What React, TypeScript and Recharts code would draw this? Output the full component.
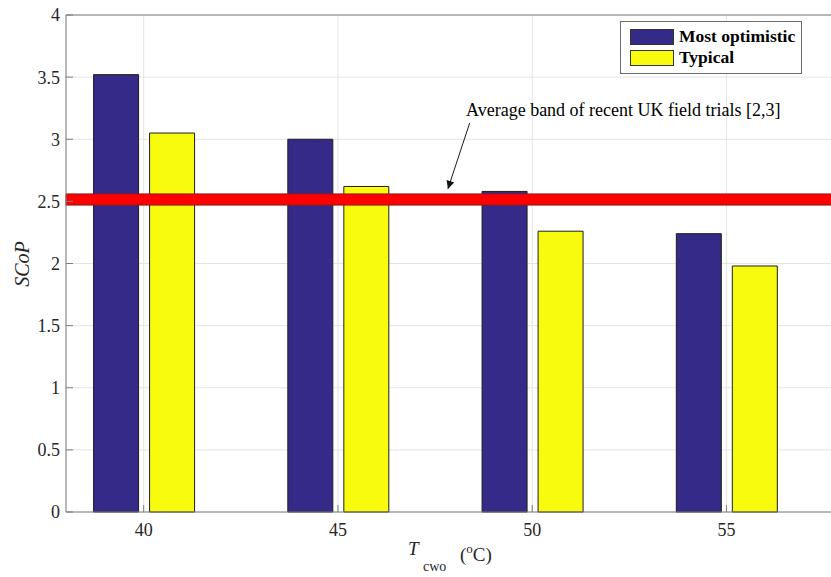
import React from "react";
import {
  Bar,
  BarChart,
  CartesianGrid,
  Legend,
  ReferenceArea,
  ReferenceLine,
  XAxis,
  YAxis,
} from "recharts";

// outlet water temperature, degC
const categories = [40, 45, 50, 55];
const mostOptimistic = [3.52, 3.0, 2.58, 2.24];
const typical = [3.05, 2.62, 2.26, 1.98];
const xTicks = [40, 45, 50, 55];
const yTicks = [0, 0.5, 1, 1.5, 2, 2.5, 3, 3.5, 4];
// field trial band (SCoP range)
const fieldBand = [2.47, 2.56];
const arrowFrom = { x: 48.39, y: 3.13 };
const arrowTo = { x: 47.83, y: 2.6 };

const BLUE = "#352A87";
const YELLOW = "#F9FB0E";
const AXIS = "#7f7f7f";
const TEXT = "#262626";
const FONT = "'Liberation Serif', 'Times New Roman', serif";

const data = categories.map((t, i) => ({
  t,
  most: mostOptimistic[i],
  typical: typical[i],
}));

function LegendBox({ payload }: { payload?: any[] }) {
  return (
    <div
      style={{
        border: "1px solid #6b6b6b",
        background: "#fff",
        width: 182,
        padding: "4px 0 5px 9px",
        boxSizing: "border-box",
        fontFamily: FONT,
        fontWeight: "bold",
        fontSize: 17.5,
        color: "#000",
      }}
    >
      {(payload ?? []).map((p) => (
        <div
          key={p.value}
          style={{ display: "flex", alignItems: "center", height: 21 }}
        >
          <span
            style={{
              display: "inline-block",
              width: 44,
              height: 16,
              background: p.color,
              border: "1px solid #333",
              boxSizing: "border-box",
              marginRight: 5,
            }}
          />
          <span>{p.value}</span>
        </div>
      ))}
    </div>
  );
}

export default function App() {
  return (
    <div
      style={{
        position: "absolute",
        left: 0,
        top: 0,
        width: 831,
        height: 577,
        overflow: "hidden",
        background: "#fff",
      }}
    >
      <BarChart
        width={843}
        height={577}
        data={data}
        margin={{ top: 0, right: 0, bottom: 35, left: 0 }}
        barGap={11}
      >
        <CartesianGrid stroke="#e4e4e4" />
        <XAxis
          dataKey="t"
          type="number"
          domain={[38, 58]}
          ticks={xTicks}
          allowDataOverflow
          height={30}
          tickSize={-7}
          tickMargin={18}
          stroke={AXIS}
          tick={{ fill: TEXT, fontFamily: FONT, fontSize: 18 }}
        />
        <XAxis
          xAxisId="top"
          orientation="top"
          dataKey="t"
          type="number"
          domain={[38, 58]}
          ticks={xTicks}
          allowDataOverflow
          height={15}
          tickSize={-7}
          tick={false}
          stroke={AXIS}
        />
        <YAxis
          domain={[0, 4]}
          ticks={yTicks}
          width={66}
          tickSize={-7}
          tickMargin={13}
          stroke={AXIS}
          tick={{ fill: TEXT, fontFamily: FONT, fontSize: 18 }}
        />
        <Legend
          layout="vertical"
          align="center"
          verticalAlign="middle"
          wrapperStyle={{ top: 21, left: 620, width: 182 }}
          content={(props: any) => <LegendBox payload={props.payload} />}
        />
        <Bar
          dataKey="most"
          name="Most optimistic"
          fill={BLUE}
          stroke="#1e1e1e"
          strokeWidth={1}
          barSize={45}
          isAnimationActive={false}
        />
        <Bar
          dataKey="typical"
          name="Typical"
          fill={YELLOW}
          stroke="#1e1e1e"
          strokeWidth={1}
          barSize={45}
          isAnimationActive={false}
        />
        <ReferenceArea
          y1={fieldBand[0]}
          y2={fieldBand[1]}
          fill="#ff0000"
          fillOpacity={1}
          stroke="#8e1c1c"
          strokeWidth={1}
          zIndex={450}
        />
        <ReferenceLine
          segment={[arrowFrom, arrowTo]}
          stroke="#1a1a1a"
          strokeWidth={1}
          markerEnd="url(#arrowHead)"
          zIndex={460}
        />
      </BarChart>
      <svg
        width={831}
        height={577}
        style={{ position: "absolute", left: 0, top: 0, pointerEvents: "none" }}
      >
        <defs>
          <marker
            id="arrowHead"
            viewBox="0 0 10 10"
            refX={10}
            refY={5}
            markerWidth={11}
            markerHeight={8}
            markerUnits="userSpaceOnUse"
            orient="auto"
          >
            <path d="M0,0 L10,5 L0,10 z" fill="#111" />
          </marker>
        </defs>
        <text
          x={466}
          y={116}
          fontFamily={FONT}
          fontSize={18}
          fill="#000"
        >
          Average band of recent UK field trials [2,3]
        </text>
        <text
          transform="translate(29,264) rotate(-90)"
          textAnchor="middle"
          fontFamily={FONT}
          fontStyle="italic"
          fontSize={20}
          fill={TEXT}
        >
          SCoP
        </text>
        <text fontFamily={FONT} fill={TEXT} fontSize={19}>
          <tspan x={408} y={555} fontStyle="italic">
            T
          </tspan>
          <tspan x={423} y={571} fontSize={14}>
            cwo
          </tspan>
          <tspan x={460} y={561}>
            (
          </tspan>
          <tspan dy={-8} fontSize={13}>
            o
          </tspan>
          <tspan dy={8}>C)</tspan>
        </text>
      </svg>
    </div>
  );
}
